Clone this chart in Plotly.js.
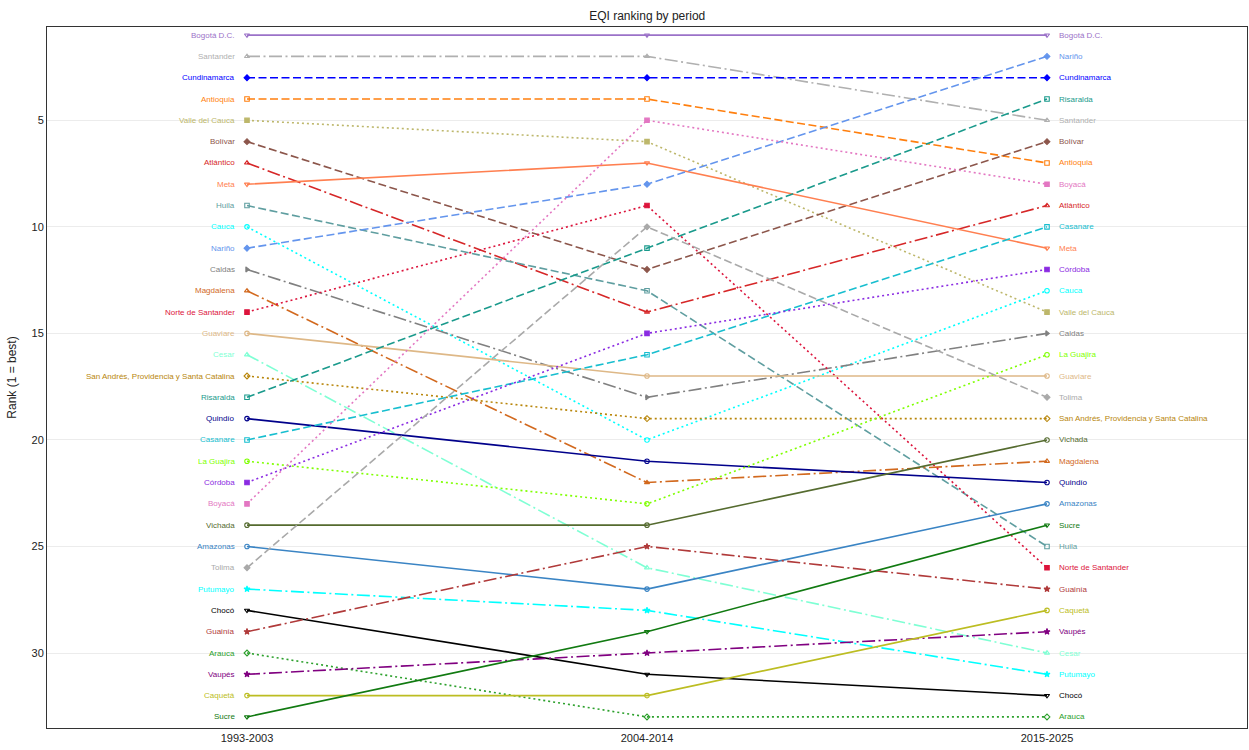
<!DOCTYPE html>
<html><head><meta charset="utf-8">
<script src="https://cdn.plot.ly/plotly-3.0.1.min.js"></script>
<style>html,body{margin:0;padding:0;background:#fff}#chart{width:1249px;height:750px}</style>
</head><body><div id="chart"></div>
<script>
const periods = ["1993-2003", "2004-2014", "2015-2025"];
const departments = ["Bogotá D.C.","Santander","Cundinamarca","Antioquia","Valle del Cauca","Bolívar","Atlántico","Meta","Huila","Cauca","Nariño","Caldas","Magdalena","Norte de Santander","Guaviare","Cesar","San Andrés, Providencia y Santa Catalina","Risaralda","Quindío","Casanare","La Guajira","Córdoba","Boyacá","Vichada","Amazonas","Tolima","Putumayo","Chocó","Guainía","Arauca","Vaupés","Caquetá","Sucre"];
const rank1993 = [1,2,3,4,5,6,7,8,9,10,11,12,13,14,15,16,17,18,19,20,21,22,23,24,25,26,27,28,29,30,31,32,33];
const rank2004 = [1,2,3,4,6,12,14,7,13,20,8,18,22,9,17,26,19,11,21,16,23,15,5,24,27,10,28,31,25,33,30,32,29];
const rank2015 = [1,5,3,7,14,6,9,11,25,13,2,15,21,26,17,30,19,4,22,10,16,12,8,20,23,18,31,32,27,33,29,28,24];
const colors = ["#9b72c8","#b0b0b0","#0000ff","#ff7f0e","#bdb76b","#8c564b","#d62728","#ff7f50","#5f9ea0","#00ffff","#6495ed","#808080","#d2691e","#dc143c","#deb887","#7fffd4","#b8860b","#1a9a8c","#00008b","#17becf","#7fff00","#8a2be2","#e377c2","#556b2f","#3a84c4","#a9a9a9","#00ffff","#000000","#b03a3a","#2ca02c","#800080","#bcbd22","#117a11"];
const dashes = ["solid","dashdot","dash","dash","dot","dash","dashdot","solid","dash","dot","dash","dashdot","dashdot","dot","solid","dashdot","dot","dash","solid","dash","dot","dot","dot","solid","solid","dash","dashdot","solid","dashdot","dot","dashdot","solid","solid"];
const symbols = ["triangle-down-open","triangle-up-open","diamond","square-open","square","diamond","triangle-up-open","triangle-down-open","square-open","circle-open","diamond","triangle-right","triangle-up-open","square","circle-open","triangle-up-open","diamond-open","square-open","circle-open","square-open","circle-open","square","square","circle-open","circle-open","diamond","star","triangle-down-open","star","diamond-open","star","circle-open","triangle-down-open"];

const dashMap = {solid: "solid", dash: "8px,3.5px", dashdot: "13px,3.5px,2px,3.5px", dot: "2px,3px"};
const traces = [];
const annotations = [];
const txtFont = "Liberation Sans, Arial, sans-serif";
departments.forEach((d, i) => {
  const ys = [rank1993[i], rank2004[i], rank2015[i]];
  traces.push({
    type: "scatter", mode: "lines+markers", name: d, x: periods, y: ys,
    line: {color: colors[i], dash: dashMap[dashes[i]], width: 1.6},
    marker: {symbol: symbols[i], size: 4.5, color: colors[i], line: {color: colors[i], width: 1.1}},
    showlegend: false, hoverinfo: "name+y"
  });
  annotations.push({x: periods[0], y: rank1993[i], text: d, showarrow: false, xanchor: "right", xshift: -10,
    font: {size: 8, color: colors[i], family: txtFont}});
  annotations.push({x: periods[2], y: rank2015[i], text: d, showarrow: false, xanchor: "left", xshift: 10,
    font: {size: 8, color: colors[i], family: txtFont}});
});

const layout = {
  width: 1249, height: 750,
  margin: {l: 47, r: 2, t: 27, b: 22},
  paper_bgcolor: "#fff", plot_bgcolor: "#fff",
  font: {family: txtFont, color: "#222"},
  title: {text: "EQI ranking by period", x: 0.5182, xanchor: "center", y: 0.985, yanchor: "top", font: {size: 12, color: "#222"}},
  xaxis: {type: "category", range: [-0.5, 2.5], showgrid: false, zeroline: false,
    showline: true, linecolor: "#333", linewidth: 1, mirror: true, ticks: "",
    tickfont: {size: 11, color: "#222"}},
  yaxis: {range: [33.52, 0.62], tickvals: [5,10,15,20,25,30], showgrid: true, gridcolor: "#ececec",
    zeroline: false, showline: true, linecolor: "#333", linewidth: 1, mirror: true, ticks: "",
    tickfont: {size: 11, color: "#222"},
    title: {text: "Rank (1 = best)", font: {size: 12, color: "#222"}, standoff: 12}},
  annotations: annotations
};
Plotly.newPlot("chart", traces, layout, {staticPlot: true, displayModeBar: false});
</script></body></html>
